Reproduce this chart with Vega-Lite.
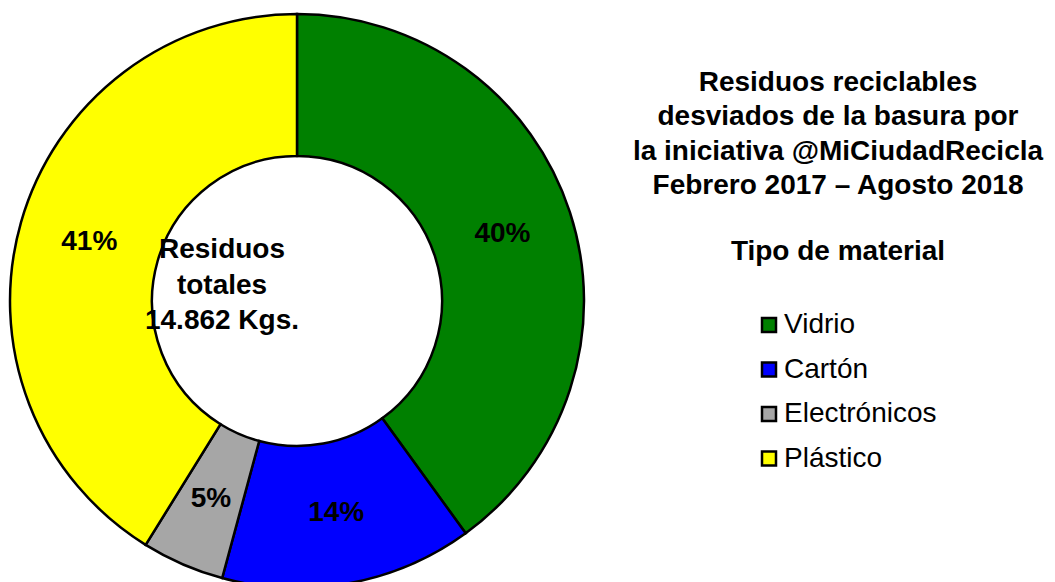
{
  "$schema": "https://vega.github.io/schema/vega-lite/v6.json",
  "width": 594,
  "height": 582,
  "autosize": "none",
  "padding": {"left": 0, "top": 0, "right": 461, "bottom": 0},
  "background": "white",
  "config": {"view": {"stroke": null}, "font": "Liberation Sans"},
  "title": {
    "text": ["Residuos reciclables", "desviados de la basura por", "la iniciativa @MiCiudadRecicla", "Febrero 2017 – Agosto 2018"],
    "subtitle": "Tipo de material",
    "orient": "top",
    "anchor": "middle",
    "frame": "group",
    "dx": 541,
    "dy": 270,
    "fontSize": 28,
    "fontWeight": "bold",
    "lineHeight": 34.3,
    "color": "black",
    "font": "Liberation Sans",
    "subtitleFont": "Liberation Sans",
    "subtitleFontSize": 28,
    "subtitleFontWeight": "bold",
    "subtitleColor": "black",
    "subtitlePadding": 38
  },
  "data": {
    "values": [
      {"material": "Vidrio", "kg": 5945, "pct": "40%", "idx": 1},
      {"material": "Cartón", "kg": 2110, "pct": "14%", "idx": 2},
      {"material": "Electrónicos", "kg": 690, "pct": "5%", "idx": 3},
      {"material": "Plástico", "kg": 6117, "pct": "41%", "idx": 4}
    ]
  },
  "layer": [
    {
      "mark": {"type": "arc", "innerRadius": 145, "outerRadius": 287, "stroke": "black", "strokeWidth": 2.5, "yOffset": 10},
      "encoding": {
        "theta": {"field": "kg", "type": "quantitative", "stack": true},
        "order": {"field": "idx", "type": "quantitative"},
        "color": {
          "field": "material",
          "type": "nominal",
          "scale": {"domain": ["Vidrio", "Cartón", "Electrónicos", "Plástico"], "range": ["#008000", "#0000FF", "#A6A6A6", "#FFFF00"]},
          "legend": {
            "orient": "none",
            "legendX": 755,
            "legendY": 311,
            "title": null,
            "symbolType": "square",
            "symbolSize": 196,
            "symbolStrokeColor": "black",
            "symbolStrokeWidth": 2.5,
            "labelFontSize": 28,
            "labelFont": "Liberation Sans",
            "labelColor": "black",
            "labelOffset": 1,
            "rowPadding": 16.5
          }
        }
      }
    },
    {
      "mark": {"type": "text", "radius": 216, "fontSize": 28, "fontWeight": "bold", "color": "black", "yOffset": 10, "font": "Liberation Sans"},
      "encoding": {
        "theta": {"field": "kg", "type": "quantitative", "stack": true},
        "order": {"field": "idx", "type": "quantitative"},
        "detail": {"field": "material", "type": "nominal"},
        "text": {"field": "pct", "type": "nominal"}
      }
    },
    {
      "data": {"values": [{"label": "Residuos\ntotales\n14.862 Kgs."}]},
      "mark": {"type": "text", "lineBreak": "\n", "lineHeight": 35.5, "fontSize": 28, "fontWeight": "bold", "color": "black", "dx": -75, "dy": -51, "yOffset": 10, "font": "Liberation Sans"},
      "encoding": {"text": {"field": "label", "type": "nominal"}}
    }
  ]
}
